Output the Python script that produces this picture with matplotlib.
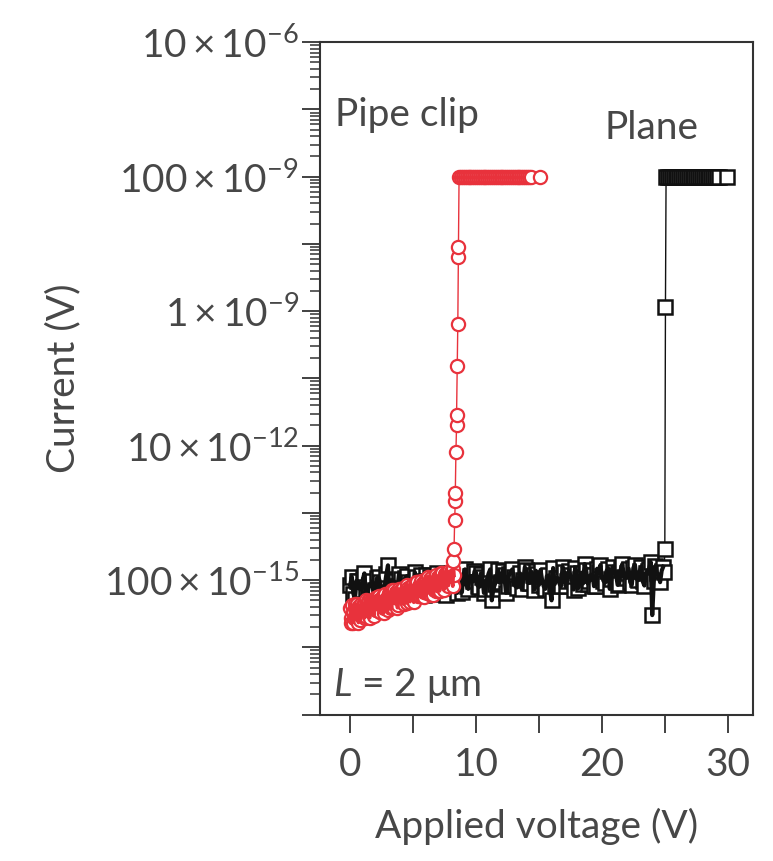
import numpy as np
import matplotlib
matplotlib.use("Agg")
import matplotlib.pyplot as plt
from matplotlib.ticker import FixedLocator, LogLocator, NullFormatter

plt.rcParams['font.family'] = ['Lato', 'DejaVu Sans']
plt.rcParams['mathtext.fontset'] = 'custom'
plt.rcParams['mathtext.rm'] = 'Lato'
plt.rcParams['mathtext.it'] = 'Lato:italic'
plt.rcParams['mathtext.sf'] = 'Lato'

TXT = '#474747'
RED = '#e8323c'

# ---- Plane (black squares) ----
# low-current sweep, points on a 0.25 V grid
plane_low_v = [0.0, 0.25, 0.5, 0.75, 1.0, 1.25, 1.5, 1.75, 2.0, 2.25,
               2.5, 2.75, 3.0, 3.25, 3.5, 3.75, 4.0, 4.25, 4.5, 4.75,
               5.0, 5.25, 5.5, 5.75, 6.0, 6.25, 6.5, 6.75, 7.0, 7.25,
               7.5, 7.75, 8.0, 8.25, 8.5, 8.75, 9.0, 9.25, 9.5, 9.75,
               10.0, 10.25, 10.5, 10.75, 11.0, 11.25, 11.5, 11.75, 12.0, 12.25,
               12.5, 12.75, 13.0, 13.25, 13.5, 13.75, 14.0, 14.25, 14.5, 14.75,
               15.0, 15.25, 15.5, 15.75, 16.0, 16.25, 16.5, 16.75, 17.0, 17.25,
               17.5, 17.75, 18.0, 18.25, 18.5, 18.75, 19.0, 19.25, 19.5, 19.75,
               20.0, 20.25, 20.5, 20.75, 21.0, 21.25, 21.5, 21.75, 22.0, 22.25,
               22.5, 22.75, 23.0, 23.25, 23.5, 23.75, 24.0, 24.25, 24.5, 24.75]
plane_low_log = [-13.07, -13.20, -13.01, -13.13, -12.99, -13.21, -13.07, -13.02, -13.15, -12.96,
                 -13.16, -13.07, -12.78, -13.20, -13.02, -13.11, -12.99, -13.16, -12.94, -13.07,
                 -13.13, -12.96, -13.17, -13.02, -12.93, -13.09, -12.98, -13.20, -13.03, -12.95,
                 -13.12, -12.91, -13.05, -12.97, -13.19, -12.99, -12.91, -13.08, -12.94, -13.02,
                 -12.89, -13.10, -12.96, -13.13, -12.90, -13.30, -13.06, -12.85, -13.03, -12.93,
                 -13.08, -12.89, -12.96, -13.11, -12.90, -13.00, -12.85, -13.04, -12.92, -12.86,
                 -13.07, -13.00, -13.13, -12.93, -13.30, -13.06, -12.97, -13.09, -12.88, -13.01,
                 -12.93, -13.14, -12.89, -12.98, -13.05, -12.85, -13.01, -12.92, -13.08, -12.88,
                 -12.94, -13.04, -12.83, -12.98, -12.88, -13.07, -12.84, -12.95, -12.90, -13.03,
                 -12.82, -12.98, -12.87, -13.02, -12.89, -12.83, -13.52, -12.79, -12.93, -12.86]
# points in between (0.125 V offset)
plane_low_v2 = [0.125, 0.375, 0.625, 0.875, 1.125, 1.375, 1.625, 1.875, 2.125, 2.375,
                2.625, 2.875, 3.125, 3.375, 3.625, 3.875, 4.125, 4.375, 4.625, 4.875,
                5.125, 5.375, 5.625, 5.875, 6.125, 6.375, 6.625, 6.875, 7.125, 7.375,
                7.625, 7.875, 8.125, 8.375, 8.625, 8.875, 9.125, 9.375, 9.625, 9.875,
                10.125, 10.375, 10.625, 10.875, 11.125, 11.375, 11.625, 11.875, 12.125, 12.375,
                12.625, 12.875, 13.125, 13.375, 13.625, 13.875, 14.125, 14.375, 14.625, 14.875,
                15.125, 15.375, 15.625, 15.875, 16.125, 16.375, 16.625, 16.875, 17.125, 17.375,
                17.625, 17.875, 18.125, 18.375, 18.625, 18.875, 19.125, 19.375, 19.625, 19.875,
                20.125, 20.375, 20.625, 20.875, 21.125, 21.375, 21.625, 21.875, 22.125, 22.375,
                22.625, 22.875, 23.125, 23.375, 23.625, 23.875, 24.125, 24.375, 24.625, 24.875]
plane_low_log2 = [-12.95, -13.28, -13.02, -13.14, -12.90, -13.21, -13.07, -13.25, -12.97, -13.03,
                  -13.17, -12.91, -13.22, -13.00, -13.09, -12.91, -13.26, -12.97, -13.03, -13.17,
                  -12.88, -13.13, -12.93, -13.22, -13.01, -12.96, -13.18, -12.89, -13.08, -12.92,
                  -13.22, -12.98, -12.90, -13.11, -13.02, -13.18, -12.84, -13.13, -12.94, -12.87,
                  -13.08, -12.91, -13.19, -12.98, -12.84, -13.13, -12.96, -13.04, -12.86, -13.19,
                  -12.91, -12.84, -13.09, -12.97, -13.13, -12.81, -13.04, -12.87, -13.14, -12.91,
                  -12.85, -13.09, -12.94, -13.15, -12.82, -12.97, -13.05, -12.80, -13.09, -12.86,
                  -12.98, -12.82, -13.12, -12.89, -12.76, -13.05, -12.92, -13.09, -12.83, -12.78,
                  -13.01, -12.86, -13.13, -12.80, -12.92, -13.05, -12.76, -12.97, -12.83, -13.07,
                  -12.77, -13.00, -12.80, -13.08, -12.86, -12.73, -13.02, -12.89, -13.03, -12.80]
# breakdown and compliance plateau
plane_high_v = [24.95, 25.0, 25.05,
                25.1, 25.25, 25.4, 25.55, 25.7, 25.85, 26.0, 26.15, 26.3, 26.45,
                26.6, 26.75, 26.9, 27.05, 27.2, 27.35, 27.5, 27.65, 27.8, 27.95,
                28.1, 28.25, 28.4, 28.55, 28.7, 28.85, 29.0, 29.15, 29.3, 29.95]
plane_high_log = [-12.88, -12.54, -8.94,
                  -7, -7, -7, -7, -7, -7, -7, -7, -7, -7,
                  -7, -7, -7, -7, -7, -7, -7, -7, -7, -7,
                  -7, -7, -7, -7, -7, -7, -7, -7, -7, -7]

# ---- Pipe clip (red circles) ----
pipe_low_v = [0.0, 0.1, 0.2, 0.3, 0.4, 0.5, 0.6, 0.7, 0.8, 0.9,
              1.0, 1.1, 1.2, 1.3, 1.4, 1.5, 1.6, 1.7, 1.8, 1.9,
              2.0, 2.1, 2.2, 2.3, 2.4, 2.5, 2.6, 2.7, 2.8, 2.9,
              3.0, 3.1, 3.2, 3.3, 3.4, 3.5, 3.6, 3.7, 3.8, 3.9,
              4.0, 4.1, 4.2, 4.3, 4.4, 4.5, 4.6, 4.7, 4.8, 4.9,
              5.0, 5.1, 5.2, 5.3, 5.4, 5.5, 5.6, 5.7, 5.8, 5.9,
              6.0, 6.1, 6.2, 6.3, 6.4, 6.5, 6.6, 6.7, 6.8, 6.9,
              7.0, 7.1, 7.2, 7.3, 7.4, 7.5, 7.6, 7.7, 7.8, 7.9,
              8.0, 8.1, 8.2]
pipe_low_log = [-13.42, -13.63, -13.47, -13.56, -13.36, -13.59, -13.46, -13.39, -13.60, -13.40,
                -13.48, -13.34, -13.53, -13.43, -13.31, -13.53, -13.36, -13.47, -13.31, -13.53,
                -13.35, -13.25, -13.42, -13.29, -13.48, -13.34, -13.24, -13.42, -13.21, -13.34,
                -13.45, -13.25, -13.21, -13.40, -13.27, -13.14, -13.34, -13.23, -13.37, -13.18,
                -13.25, -13.33, -13.11, -13.27, -13.15, -13.34, -13.11, -13.17, -13.26, -13.08,
                -13.30, -13.12, -13.19, -13.03, -13.24, -13.09, -13.13, -13.24, -13.04, -13.17,
                -12.99, -13.19, -13.07, -12.99, -13.22, -13.01, -13.08, -12.95, -13.16, -13.01,
                -12.96, -13.16, -13.01, -12.89, -13.08, -12.92, -13.03, -12.89, -13.08, -12.93,
                -12.88, -13.04, -12.84]
pipe_low_v2 = [0.05, 0.15, 0.25, 0.35, 0.45, 0.55, 0.65, 0.75, 0.85, 0.95,
               1.05, 1.15, 1.25, 1.35, 1.45, 1.55, 1.65, 1.75, 1.85, 1.95,
               2.05, 2.15, 2.25, 2.35, 2.45, 2.55, 2.65, 2.75, 2.85, 2.95,
               3.05, 3.15, 3.25, 3.35, 3.45, 3.55, 3.65, 3.75, 3.85, 3.95,
               4.05, 4.15, 4.25, 4.35, 4.45, 4.55, 4.65, 4.75, 4.85, 4.95,
               5.05, 5.15, 5.25, 5.35, 5.45, 5.55, 5.65, 5.75, 5.85, 5.95,
               6.05, 6.15, 6.25, 6.35, 6.45, 6.55, 6.65, 6.75, 6.85, 6.95,
               7.05, 7.15, 7.25, 7.35, 7.45, 7.55, 7.65, 7.75, 7.85, 7.95,
               8.05, 8.15, 8.25]
pipe_low_log2 = [-13.57, -13.37, -13.63, -13.41, -13.50, -13.36, -13.63, -13.43, -13.35, -13.54,
                 -13.39, -13.56, -13.29, -13.46, -13.34, -13.56, -13.31, -13.39, -13.50, -13.26,
                 -13.44, -13.34, -13.23, -13.48, -13.28, -13.37, -13.49, -13.22, -13.28, -13.41,
                 -13.19, -13.35, -13.41, -13.14, -13.29, -13.35, -13.18, -13.41, -13.13, -13.28,
                 -13.19, -13.13, -13.36, -13.19, -13.30, -13.07, -13.21, -13.32, -13.09, -13.16,
                 -13.33, -13.09, -13.03, -13.22, -13.12, -13.24, -13.02, -13.08, -13.25, -13.03,
                 -13.15, -12.95, -13.19, -13.08, -12.97, -13.22, -13.01, -13.08, -12.93, -13.16,
                 -12.97, -13.09, -12.89, -13.03, -13.14, -12.91, -12.96, -13.07, -12.87, -13.03,
                 -12.88, -13.09, -12.93]
pipe_high_v = [8.2, 8.25, 8.3, 8.35, 8.35, 8.4, 8.45, 8.45, 8.5, 8.55, 8.6, 8.6,
               8.65, 8.8, 8.95, 9.1, 9.25, 9.4, 9.55, 9.7, 9.85, 10.0,
               10.15, 10.3, 10.45, 10.6, 10.75, 10.9, 11.05, 11.2, 11.35, 11.5,
               11.65, 11.8, 11.95, 12.1, 12.25, 12.4, 12.55, 12.7, 12.85, 13.0,
               13.15, 13.3, 13.45, 13.6, 13.75, 13.9, 14.05, 14.2, 14.35, 15.05]
pipe_high_log = [-12.71, -12.54, -12.10, -11.82, -11.70, -11.09, -10.70, -10.55, -9.82, -9.19, -8.20, -8.05,
                 -7, -7, -7, -7, -7, -7, -7, -7, -7, -7,
                 -7, -7, -7, -7, -7, -7, -7, -7, -7, -7,
                 -7, -7, -7, -7, -7, -7, -7, -7, -7, -7,
                 -7, -7, -7, -7, -7, -7, -7, -7, -7, -7]

decades = [1e-15, 1e-14, 1e-13, 1e-12, 1e-11, 1e-10, 1e-9, 1e-8, 1e-7, 1e-6, 1e-5]
decade_labels = ['', '', r'$100\times10^{-15}$', '', r'$10\times10^{-12}$', '',
                 r'$1\times10^{-9}$', '', r'$100\times10^{-9}$', '', r'$10\times10^{-6}$']
xticks = [0, 5, 10, 15, 20, 25, 30]
xtick_labels = ['0', '', '10', '', '20', '', '30']


def sweep(v1, l1, v2, l2, vh, lh):
    v = np.concatenate([v1, v2])
    l = np.concatenate([l1, l2])
    order = np.argsort(v, kind='stable')
    v = np.concatenate([v[order], vh])
    l = np.concatenate([l[order], lh])
    return v, 10 ** l


plane_v, plane_i = sweep(plane_low_v, plane_low_log, plane_low_v2, plane_low_log2,
                         plane_high_v, plane_high_log)
pipe_v, pipe_i = sweep(pipe_low_v, pipe_low_log, pipe_low_v2, pipe_low_log2,
                       pipe_high_v, pipe_high_log)
n_plane = len(plane_low_v) + len(plane_low_v2)
n_pipe = len(pipe_low_v) + len(pipe_low_v2)

fig = plt.figure(figsize=(7.73, 8.61), dpi=100)
ax = fig.add_axes([0.414, 0.170, 0.560, 0.781])

# markers with connecting line; the noisy low-current part is redrawn on top
# so the dense zigzag fills the cloud like in the original figure
ax.plot(plane_v, plane_i, '-s', color='#111111', lw=1.0,
        ms=10.5, mfc='white', mec='#111111', mew=1.8, zorder=2)
ax.plot(plane_v[:n_plane], plane_i[:n_plane], '-', color='#111111', lw=3.0,
        solid_joinstyle='round', zorder=2.1)
ax.plot(pipe_v, pipe_i, '-o', color=RED, lw=1.0,
        ms=9.5, mfc='white', mec=RED, mew=1.6, zorder=2.2)
ax.plot(pipe_v[:n_pipe], pipe_i[:n_pipe], '-', color=RED, lw=2.6,
        solid_joinstyle='round', zorder=2.3)

ax.set_yscale('log')
ax.set_xlim(-2.4, 32.0)
ax.set_ylim(1e-15, 1e-5)

ax.yaxis.set_major_locator(FixedLocator(decades))
ax.set_yticklabels(decade_labels)
ax.yaxis.set_minor_locator(LogLocator(base=10, subs=np.arange(2, 10), numticks=30))
ax.yaxis.set_minor_formatter(NullFormatter())
ax.set_xticks(xticks)
ax.set_xticklabels(xtick_labels)

ax.tick_params(axis='both', which='major', direction='out', length=13, width=1.3,
               color='#333333', labelcolor=TXT, labelsize=28, pad=2)
ax.tick_params(axis='y', which='minor', direction='out', length=7, width=1.1,
               color='#333333')
ax.tick_params(axis='x', which='major', pad=10)
for s in ax.spines.values():
    s.set_linewidth(1.5)
    s.set_color('#333333')

ax.set_xlabel('Applied voltage (V)', fontsize=28, color=TXT, labelpad=18)
ax.set_ylabel('Current (V)', fontsize=28, color=TXT, labelpad=16)

ax.text(0.035, 0.892, 'Pipe clip', transform=ax.transAxes, fontsize=28,
        color=TXT, va='center', ha='left')
ax.text(0.658, 0.872, 'Plane', transform=ax.transAxes, fontsize=28,
        color=TXT, va='center', ha='left')
ax.text(0.03, 0.043, r'$L$ = 2 μm', transform=ax.transAxes, fontsize=28,
        color=TXT, va='center', ha='left')

fig.savefig('out.png', dpi=100)
